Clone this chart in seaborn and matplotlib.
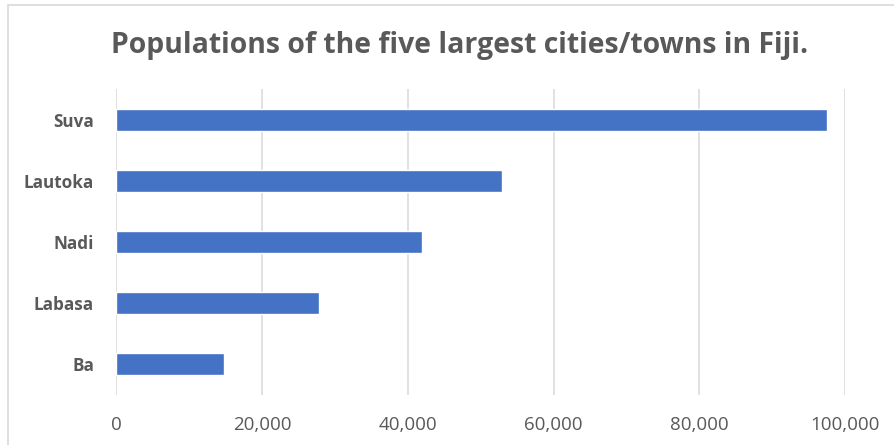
import matplotlib
matplotlib.use("Agg")
import matplotlib.pyplot as plt
from matplotlib.patches import Rectangle
from matplotlib.ticker import FuncFormatter
import seaborn as sns
import pandas as pd

# Population of the five largest urban centres in Fiji
cities = ["Suva", "Lautoka", "Nadi", "Labasa", "Ba"]
populations = [97500, 52900, 42000, 27800, 14800]

title = "Populations of the five largest cities/towns in Fiji."
x_ticks = [0, 20000, 40000, 60000, 80000, 100000]

df = pd.DataFrame({"city": cities, "population": populations})

sns.set_theme(style="white")
plt.rcParams["font.family"] = ["Open Sans", "DejaVu Sans"]

W, H = 894, 445
fig = plt.figure(figsize=(W / 100, H / 100), dpi=100)
fig.patch.set_facecolor("white")

# plot area in pixel terms
left, right, top, bottom = 116.3, 845.0, 89.0, 395.0
ax = fig.add_axes([left / W, 1 - bottom / H, (right - left) / W, (bottom - top) / H])

sns.barplot(data=df, x="population", y="city", order=cities, orient="h",
            color="#4472C4", saturation=1, width=0.36, ax=ax)

ax.set_xlim(0, 100000)
ax.set_ylim(len(cities) - 0.5, -0.5)
ax.set_xticks(x_ticks)
ax.xaxis.set_major_formatter(FuncFormatter(lambda v, _: f"{int(v):,}"))
ax.grid(axis="x", color="#D9D9D9", linewidth=1.1)
ax.set_axisbelow(True)
for s in ax.spines.values():
    s.set_visible(False)
ax.set_xlabel("")
ax.set_ylabel("")
ax.tick_params(axis="x", length=0, pad=15, labelsize=13.5, labelcolor="#595959")
ax.tick_params(axis="y", length=0, pad=16, labelsize=12.3, labelcolor="#595959")
for lab in ax.get_yticklabels():
    lab.set_fontweight("bold")

fig.text(460 / W, 1 - 45 / H, title, ha="center", va="center",
         fontsize=20.4, fontweight="bold", color="#595959")

# chart frame (left and top edges visible)
fig.patches.append(Rectangle((8 / W, -0.1), 1.2, 1 - 5 / H + 0.1,
                             transform=fig.transFigure, fill=False,
                             edgecolor="#D9D9D9", linewidth=1.2))

fig.savefig("out.png", dpi=100)
